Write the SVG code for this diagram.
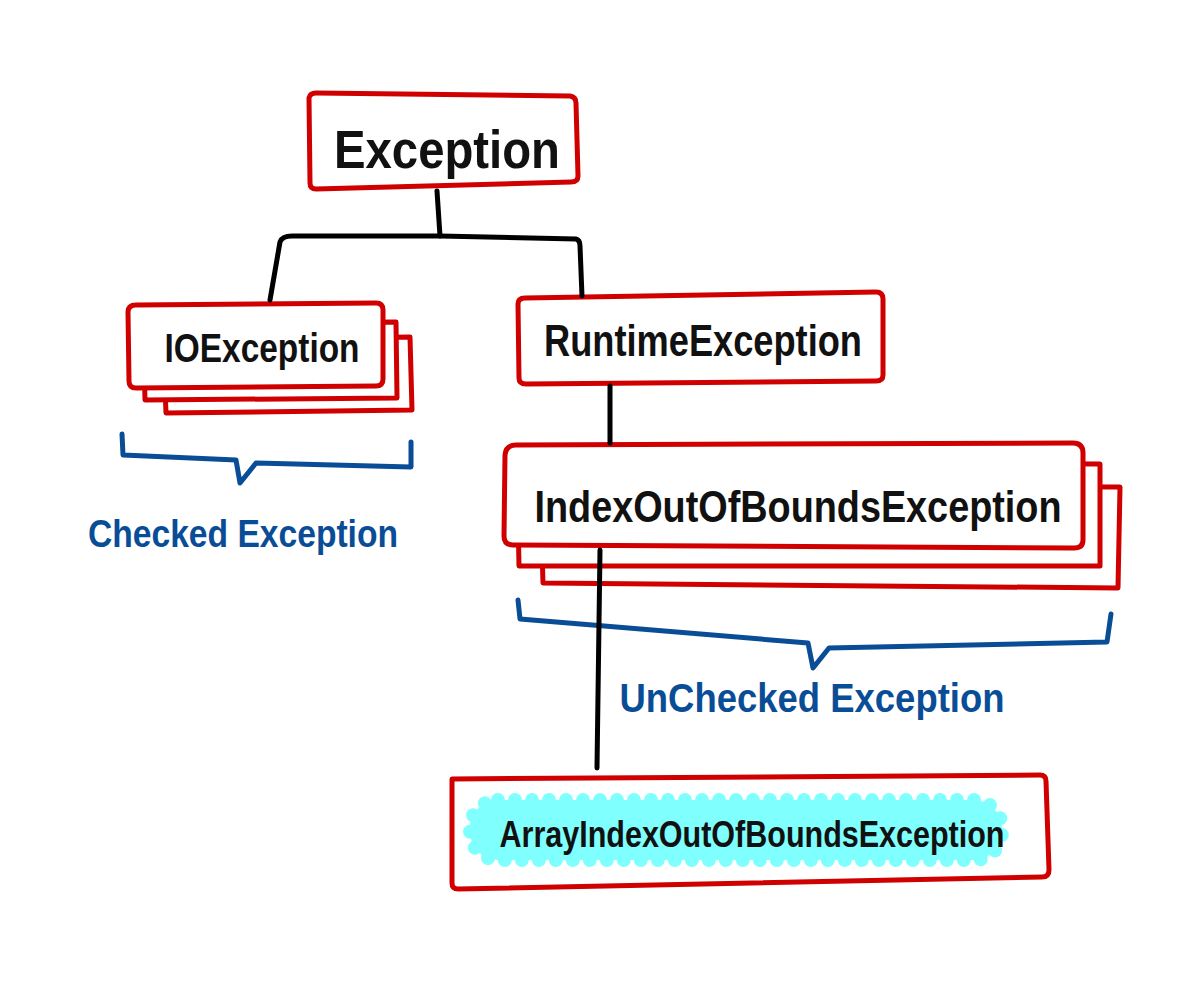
<svg xmlns="http://www.w3.org/2000/svg" width="1194" height="1000" viewBox="0 0 1194 1000">
<style>
.box{fill:#fff;stroke:#d00000;stroke-width:5;stroke-linejoin:round;stroke-linecap:round}
.conn{fill:none;stroke:#000;stroke-width:5;stroke-linecap:round;stroke-linejoin:round}
.brace{fill:none;stroke:#0a4d97;stroke-width:5;stroke-linecap:round;stroke-linejoin:round}
.lbl{font-family:"Liberation Sans",Arial,sans-serif;fill:#111;font-weight:bold}
.note{font-family:"Liberation Sans",Arial,sans-serif;fill:#0a4d97;font-weight:bold}
</style>
<rect width="1194" height="1000" fill="#fff"/>
<g id="exception">
<path class="box" d="M309,98 Q310,93 316,93 L570,96 Q576,97 576,103 L578,176 Q578,182 571,182 L316,189 Q310,189 310,183 Z"/>
<text class="lbl" x="447" y="168" font-size="54" text-anchor="middle" textLength="226" lengthAdjust="spacingAndGlyphs">Exception</text>
</g>
<g id="ioexception">
<path class="box" d="M163,340 L410,337 L412,410 L166,413 Z"/>
<path class="box" d="M143,324 L396,322 L397,398 L145,400 Z"/>
<path class="box" d="M128,312 Q128,305 136,305 L376,303 Q383,303 383,310 L383,379 Q383,386 376,386 L136,388 Q129,388 129,381 Z"/>
<text class="lbl" x="262" y="362" font-size="40" text-anchor="middle" textLength="195" lengthAdjust="spacingAndGlyphs">IOException</text>
</g>
<g id="checked">
<path class="brace" d="M122,434 L123,455 L236,460 L240,483 L256,463 L411,467 L411,442"/>
<text class="note" x="243" y="547" font-size="38" text-anchor="middle" textLength="310" lengthAdjust="spacingAndGlyphs">Checked  Exception</text>
</g>
<g id="runtimeexception">
<path class="box" d="M518,304 Q518,298 525,298 L876,292 Q883,292 883,299 L883,375 Q883,381 876,381 L526,384 Q519,384 519,378 Z"/>
<text class="lbl" x="703" y="356" font-size="44" text-anchor="middle" textLength="318" lengthAdjust="spacingAndGlyphs">RuntimeException</text>
</g>
<g id="indexoutofbounds">
<path class="box" d="M540,485 L1120,487 L1118,588 L543,583 Z"/>
<path class="box" d="M517,463 L1100,464 L1100,566 L519,566 Z"/>
<path class="box" d="M505,455 Q506,445 516,445 L1073,443 Q1083,443 1083,453 L1083,540 Q1083,548 1074,548 L513,545 Q504,545 504,536 Z"/>
<text class="lbl" x="798" y="522" font-size="44" text-anchor="middle" textLength="527" lengthAdjust="spacingAndGlyphs">IndexOutOfBoundsException</text>
</g>
<g id="unchecked">
<path class="brace" d="M518,600 L520,619 L808,643 L813,668 L829,648 L1107,642 L1111,614"/>
<text class="note" x="812" y="712" font-size="40" text-anchor="middle" textLength="385" lengthAdjust="spacingAndGlyphs">UnChecked  Exception</text>
</g>
<g id="arrayindexoutofbounds">
<path class="box" d="M452,779 L1040,775 Q1046,775 1046,781 L1049,870 Q1049,877 1042,877 L458,889 Q452,889 452,883 Z"/>
<rect x="470" y="800" width="532" height="60" rx="28" fill="#80ffff" stroke="#80ffff" stroke-width="14" stroke-dasharray="0 17" stroke-linecap="round"/>
<rect x="476" y="804" width="520" height="52" rx="24" fill="#80ffff"/>
<text class="lbl" x="752" y="847" font-size="36" text-anchor="middle" textLength="505" lengthAdjust="spacingAndGlyphs">ArrayIndexOutOfBoundsException</text>
</g>
<g id="connectors">
<path class="conn" d="M437,191 L440,236"/>
<path class="conn" d="M270,300 L280,242 Q282,236 292,236 L440,236 L576,239 Q580,240 580,246 L582,296"/>
<path class="conn" d="M610,386 L610,443"/>
<path class="conn" d="M600,550 L597,768"/>
</g>
</svg>
